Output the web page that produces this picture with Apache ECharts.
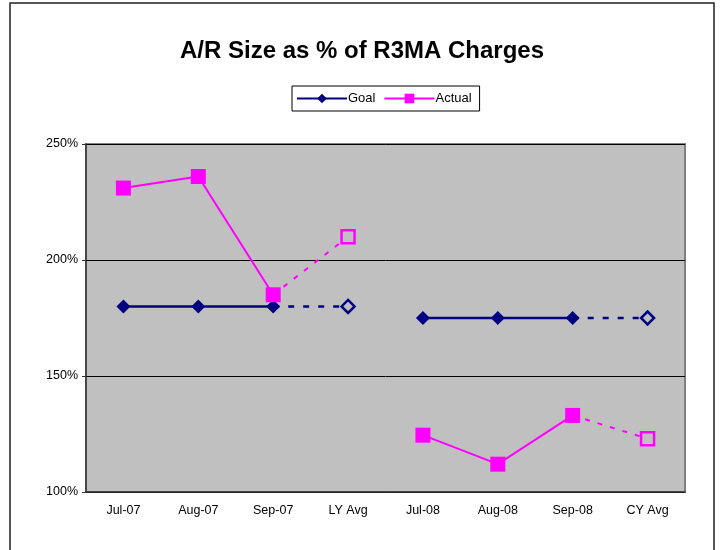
<!DOCTYPE html>
<html>
<head>
<meta charset="utf-8">
<script src="https://cdn.jsdelivr.net/npm/echarts@6/dist/echarts.min.js"></script>
<style>
  html, body { margin: 0; padding: 0; background: #fff; }
  #chart { width: 724px; height: 550px; }
</style>
</head>
<body>
<div id="chart"></div>
<script>
const categories = ['Jul-07', 'Aug-07', 'Sep-07', 'LY Avg', 'Jul-08', 'Aug-08', 'Sep-08', 'CY Avg']

// solid parts (monthly) and dashed parts (last month -> average)
const goalMonthly = [180, 180, 180, null, 175, 175, 175, null]
const goalToAvg = [null, null, 180, 180, null, null, 175, 175]
const actualMonthly = [231, 236, 185, null, 124.5, 112, 133, null]
const actualToAvg = [null, null, 185, 210, null, null, 133, 123]

const navy = '#000080'
const magenta = '#FF00FF'
const font = 'Liberation Sans, Arial, sans-serif'

const chart = echarts.init(document.getElementById('chart'))

// only the average points get a (hollow) marker on the dashed series
function avgPoints(values, symbol, size) {
  return values.map((v, i) => {
    if (v === null) return null
    const isAvg = categories[i].indexOf('Avg') >= 0
    return { value: v, symbol: isAvg ? symbol : 'none', symbolSize: size }
  })
}

chart.setOption({
  animation: false,
  textStyle: { fontFamily: font },
  title: {
    text: 'A/R Size as % of R3MA Charges',
    left: 'center',
    top: 34,
    textStyle: { fontFamily: font, fontSize: 24, fontWeight: 'bold', color: '#000' }
  },
  legend: {
    data: ['Goal', 'Actual'],
    top: 86,
    left: 292,
    itemWidth: 50,
    itemHeight: 12,
    itemGap: 8,
    padding: [6, 8, 6, 4],
    borderColor: '#000',
    borderWidth: 1,
    textStyle: { fontFamily: font, fontSize: 13, color: '#000', padding: [0, 0, 0, -4] }
  },
  graphic: [{
    type: 'rect',
    shape: { x: 10, y: 3, width: 704, height: 570 },
    style: { fill: 'none', stroke: '#222', lineWidth: 1.5 },
    silent: true
  }],
  grid: {
    left: 86,
    right: 39,
    top: 144,
    bottom: 58,
    show: true,
    backgroundColor: '#C0C0C0',
    borderColor: '#808080',
    borderWidth: 2
  },
  xAxis: {
    type: 'category',
    data: categories,
    boundaryGap: true,
    axisLine: { lineStyle: { color: '#333', width: 1.5 } },
    axisTick: { length: 4, lineStyle: { color: '#333' } },
    axisLabel: { color: '#000', fontSize: 12.5, margin: 12, fontFamily: font }
  },
  yAxis: {
    type: 'value',
    min: 100,
    max: 250,
    interval: 50,
    axisLine: { show: true, lineStyle: { color: '#333', width: 1.5 } },
    axisTick: { show: true, length: 4, lineStyle: { color: '#333' } },
    axisLabel: { color: '#000', fontSize: 12.5, margin: 8, formatter: '{value}%', fontFamily: font },
    splitLine: { lineStyle: { color: '#000', width: 1 } }
  },
  series: [
    {
      name: 'Goal',
      type: 'line',
      data: goalMonthly,
      symbol: 'diamond',
      symbolSize: 14,
      itemStyle: { color: navy },
      lineStyle: { color: navy, width: 2.5 },
      z: 3
    },
    {
      name: 'Goal avg',
      type: 'line',
      data: avgPoints(goalToAvg, 'diamond', 13),
      itemStyle: { color: '#C0C0C0', borderColor: navy, borderWidth: 2.5 },
      lineStyle: { color: navy, width: 2.5, type: [6, 9] },
      z: 3
    },
    {
      name: 'Actual',
      type: 'line',
      data: actualMonthly,
      symbol: 'rect',
      symbolSize: 15,
      itemStyle: { color: magenta },
      lineStyle: { color: magenta, width: 2 },
      z: 4
    },
    {
      name: 'Actual avg',
      type: 'line',
      data: avgPoints(actualToAvg, 'rect', 13),
      itemStyle: { color: '#C0C0C0', borderColor: magenta, borderWidth: 2.5 },
      lineStyle: { color: magenta, width: 2, type: [5, 8] },
      z: 4
    }
  ]
})
</script>
</body>
</html>
